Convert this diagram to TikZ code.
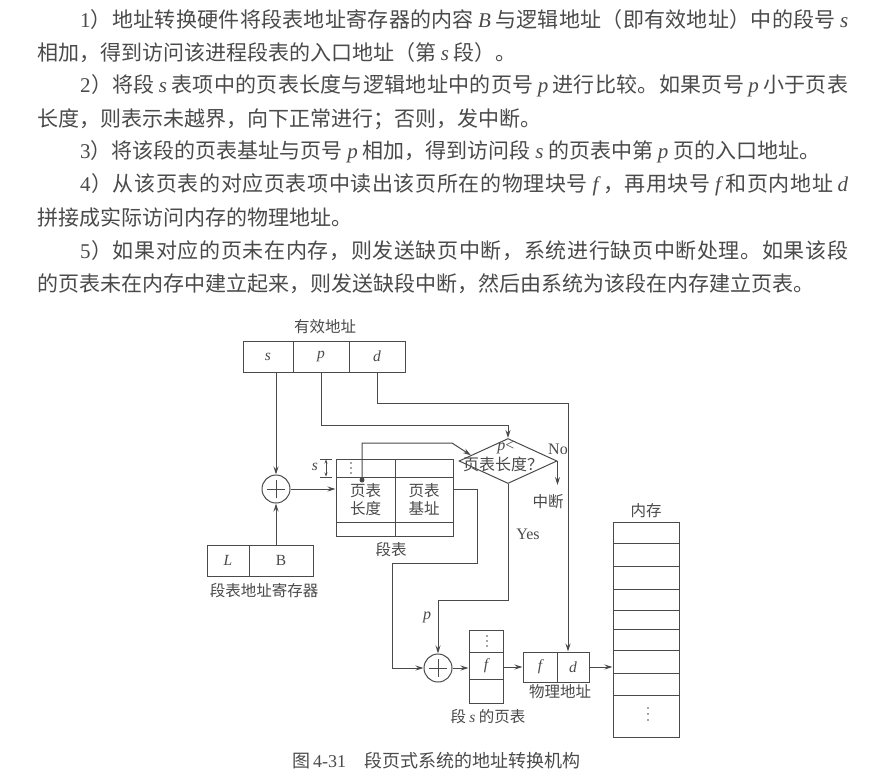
\documentclass[tikz,border=0pt]{standalone}
\usepackage{fontspec}
\setmainfont{Noto Sans CJK SC}
\newfontfamily\tms{Liberation Serif}
\usetikzlibrary{shapes.geometric,arrows.meta,calc}
\definecolor{ink}{HTML}{4a4a4a}
\newcommand\iv[1]{{\tms\itshape #1}}
\newcommand\ivs[1]{\hspace{4pt}{\tms\itshape #1}\hspace{4pt}}
\newcommand\rv[1]{{\tms #1}}
\def\sprA#1{#1\sprB}
\def\sprB#1{\ifx\relax#1\else\hskip0pt plus 1fil\relax#1\expandafter\sprB\fi}
\newcommand\spr[1]{\hbox to 768pt{\sprA#1\relax}}
\tikzset{
  cell/.style={draw, line width=1pt, inner sep=0pt, font=\fontsize{15.5}{17}\selectfont},
  lab/.style={inner sep=0pt, font=\fontsize{15.5}{17}\selectfont},
  body/.style={inner sep=0pt, anchor=west, font=\fontsize{21}{24}\selectfont},
  arr/.style={-{Stealth[length=8pt,width=5pt]}, line width=1pt},
  wire/.style={line width=1pt},
  adder/.style={circle, draw, line width=1pt, minimum size=28pt, inner sep=0pt}
}
\begin{document}
\begin{tikzpicture}[x=1pt,y=-1pt,color=ink]
\fill[white] (0,0) rectangle (880,777);
\useasboundingbox (0,0) rectangle (880,777);

% body text
\node[body] (t1) at (80,20) {\spr{{\rv{1}}）地址转换硬件将段表地址寄存器的内容{\ivs{B}}与逻辑地址（即有效地址）中的段号{\hspace{4pt}\iv{s}}}};
\node[body] (t2) at (37,53) {相加，得到访问该进程段表的入口地址（第 \iv{s} 段）。};
\node[body] (t3) at (80,86) {\spr{{\rv{2}}）将段{\ivs{s}}表项中的页表长度与逻辑地址中的页号{\ivs{p}}进行比较。如果页号{\ivs{p}}小于页表}};
\node[body] (t4) at (37,119) {长度，则表示未越界，向下正常进行；否则，发中断。};
\node[body] (t5) at (80,152) {\rv{3}）将该段的页表基址与页号 \iv{p} 相加，得到访问段 \iv{s} 的页表中第 \iv{p} 页的入口地址。};
\node[body] (t6) at (80,185) {\spr{{\rv{4}}）从该页表的对应页表项中读出该页所在的物理块号{\ivs{f}}，再用块号{\ivs{f}}和页内地址{\hspace{4pt}\iv{d}}}};
\node[body] (t7) at (37,218) {拼接成实际访问内存的物理地址。};
\node[body] (t8) at (80,251) {\spr{{\rv{5}}）如果对应的页未在内存，则发送缺页中断，系统进行缺页中断处理。如果该段}};
\node[body] (t9) at (37,284) {的页表未在内存中建立起来，则发送缺段中断，然后由系统为该段在内存建立页表。};

% effective address
\node[lab] (eal) at (325,327) {有效地址};
\node[cell, minimum width=50pt, minimum height=31pt] (es) at (268,356.5) {\iv{s}};
\node[cell, minimum width=56pt, minimum height=31pt] (ep) at (321,356.5) {\iv{p}};
\node[cell, minimum width=56pt, minimum height=31pt] (ed) at (377,356.5) {\iv{d}};

% adder 1
\node[adder] (a1) at (276,489) {};
\draw[wire] ([xshift=-9pt]a1.center) -- ([xshift=9pt]a1.center);
\draw[wire] ([yshift=-9pt]a1.center) -- ([yshift=9pt]a1.center);

% register
\node[cell, minimum width=42pt, minimum height=31pt] (rl) at (228,560.5) {\iv{L}};
\node[cell, minimum width=64pt, minimum height=31pt] (rb) at (281,560.5) {\rv{B}};
\node[lab] (rlab) at (264,591) {段表地址寄存器};

% segment table
\node[cell, minimum width=59pt, minimum height=18pt] (s1l) at (365.5,468) {};
\node[cell, minimum width=58pt, minimum height=18pt] (s1r) at (424,468) {};
\node[cell, minimum width=59pt, minimum height=45pt, align=center, font=\fontsize{15.5}{18}\selectfont] (s2l) at (365.5,499.5) {页表\\长度};
\node[cell, minimum width=58pt, minimum height=45pt, align=center, font=\fontsize{15.5}{18}\selectfont] (s2r) at (424,499.5) {页表\\基址};
\node[cell, minimum width=59pt, minimum height=14pt] (s3l) at (365.5,529) {};
\node[cell, minimum width=58pt, minimum height=14pt] (s3r) at (424,529) {};
\node[lab] (stl) at (391,550) {段表};
\foreach \yy in {463,468,473} \fill (351,\yy) circle (0.9);
% s marker
\node[lab] (sm) at (315,467) {\iv{s}};
\draw[line width=0.7pt] (320,459) -- (332,459) (320,477) -- (332,477);
\draw[line width=0.7pt, {Stealth[length=4pt,width=3pt]}-{Stealth[length=4pt,width=3pt]}] (326,459.5) -- (326,476.5);

% compare diamond
\node[diamond, draw, line width=1pt, minimum width=98pt, minimum height=45pt, inner sep=0pt] (cmp) at (508,461) {};
\node[lab, font=\fontsize{16}{18}\selectfont] (cmpa) at (506,448) {\iv{p}\rv{<}};
\node[lab, font=\fontsize{16}{18}\selectfont] (cmpb) at (503,464) {页表长度？};
\node[lab, font=\tms\fontsize{16}{18}\selectfont] (no) at (558,449) {No};
\node[lab] (intr) at (548,502) {中断};
\node[lab, font=\tms\fontsize{16}{18}\selectfont] (yes) at (528,534) {Yes};

% pointer dot
\node[circle, fill, inner sep=0pt, minimum size=5pt] (pl) at (362,480) {};

% adder 2
\node[adder] (a2) at (438,668) {};
\draw[wire] ([xshift=-9pt]a2.center) -- ([xshift=9pt]a2.center);
\draw[wire] ([yshift=-9pt]a2.center) -- ([yshift=9pt]a2.center);
\node[lab, font=\tms\itshape\fontsize{16}{18}\selectfont] (plab) at (427,617) {p};

% page table of segment s
\node[cell, minimum width=34pt, minimum height=22pt] (pt1) at (486,641) {};
\node[cell, minimum width=34pt, minimum height=27pt] (ptf) at (486,665.5) {\iv{f}};
\node[cell, minimum width=34pt, minimum height=24pt] (pt3) at (486,691) {};
\foreach \yy in {636,641,646} \fill (487,\yy) circle (0.9);
\node[lab] (ptl) at (488,717) {段 \iv{s} 的页表};

% physical address
\node[cell, minimum width=34pt, minimum height=30pt] (pf) at (540,667) {\iv{f}};
\node[cell, minimum width=32pt, minimum height=30pt] (pd) at (573,667) {\iv{d}};
\node[lab] (pal) at (560,692) {物理地址};

% memory
\node[lab] (meml) at (646,511) {内存};
\node[cell, minimum width=66pt, minimum height=21pt] (m1) at (646,532.5) {};
\node[cell, minimum width=66pt, minimum height=23pt] (m2) at (646,554.5) {};
\node[cell, minimum width=66pt, minimum height=23pt] (m3) at (646,577.5) {};
\node[cell, minimum width=66pt, minimum height=21pt] (m4) at (646,599.5) {};
\node[cell, minimum width=66pt, minimum height=19pt] (m5) at (646,619.5) {};
\node[cell, minimum width=66pt, minimum height=21pt] (m6) at (646,639.5) {};
\node[cell, minimum width=66pt, minimum height=23pt] (m7) at (646,661.5) {};
\node[cell, minimum width=66pt, minimum height=22pt] (m8) at (646,684) {};
\node[cell, minimum width=66pt, minimum height=42pt] (m9) at (646,716) {};
\foreach \yy in {708,714,720} \fill (648,\yy) circle (0.9);

% caption
\node[inner sep=0pt, anchor=west, font=\fontsize{18}{20}\selectfont] (cap) at (292,761) {图\,\rv{4-31}\hspace{18pt}段页式系统的地址转换机构};

% connectors
\coordinate (dx) at (568,0);
\draw[arr] (es.south -| a1) -- (a1.north);
\draw[arr] (rb.north -| a1) -- (a1.south);
\draw[arr] (a1.east) -- (a1.east -| s2l.west);
\draw[arr] (ep.south) -- (321,425) -- (508,425) -- (cmp.north);
\draw[arr] (ed.south) -- (377,403) -- (568,403) -- (pd.north -| dx);
\draw[arr] (pl.center) -- (362,443) -- (452,443) -- ($(cmp.west)!0.25!(cmp.north)$);
\draw[arr] (cmp.east) -- ($(cmp.east)+(0,24)$);
\draw[arr] (cmp.south) -- (508,600) -- (438,600) -- (a2.north);
\draw[arr] ([yshift=10.5pt]s2r.east) -- (477,489) -- (477,563) -- (392,563) -- (392,668) -- (a2.west);
\draw[arr] (a2.east) -- (a2.east -| ptf.west);
\draw[arr] (ptf.east |- pf.west) -- (pf.west);
\draw[arr] (pd.east) -- (pd.east -| m7.west);
\end{tikzpicture}
\end{document}
